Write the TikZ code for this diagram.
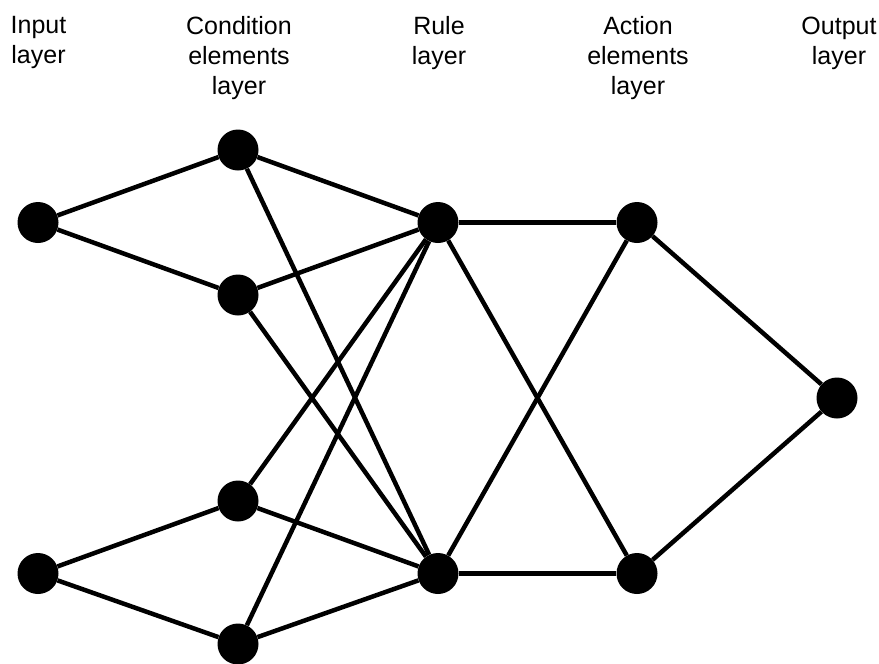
\documentclass[tikz,border=0pt]{standalone}
\usepackage{fontspec}
\setmainfont{Liberation Sans}
\begin{document}
\begin{tikzpicture}[x=1pt,y=-1pt,
  neuron/.style={circle,fill=black,draw=none,minimum size=41pt,inner sep=0pt},
  conn/.style={line width=4.5pt},
  lbl/.style={align=center,inner sep=0pt,anchor=north,font=\fontsize{25pt}{30pt}\selectfont}]
\useasboundingbox (0,0) rectangle (879,664);
\node[neuron] (i1) at (38,222.5) {};
\node[neuron] (i2) at (38,573.5) {};
\node[neuron] (c1) at (238,150) {};
\node[neuron] (c2) at (238,295) {};
\node[neuron] (c3) at (238,501) {};
\node[neuron] (c4) at (238,644) {};
\node[neuron] (r1) at (438,222.5) {};
\node[neuron] (r2) at (438,573.5) {};
\node[neuron] (a1) at (637,222.5) {};
\node[neuron] (a2) at (637,573.5) {};
\node[neuron] (o1) at (837,398) {};
\foreach \a/\b in {i1/c1,i1/c2,i2/c3,i2/c4,
  c1/r1,c1/r2,c2/r1,c2/r2,c3/r1,c3/r2,c4/r1,c4/r2,
  r1/a1,r1/a2,r2/a1,r2/a2,a1/o1,a2/o1}
  \draw[conn] (\a) -- (\b);
\node[lbl] (t1) at (38.5,16.5) {Input\\layer};
\node[lbl] (t2) at (239,16.5) {Condition\\elements\\layer};
\node[lbl] (t3) at (439,16.5) {Rule\\layer};
\node[lbl] (t4) at (638,16.5) {Action\\elements\\layer};
\node[lbl] (t5) at (839,16.5) {Output\\layer};
\end{tikzpicture}
\end{document}
